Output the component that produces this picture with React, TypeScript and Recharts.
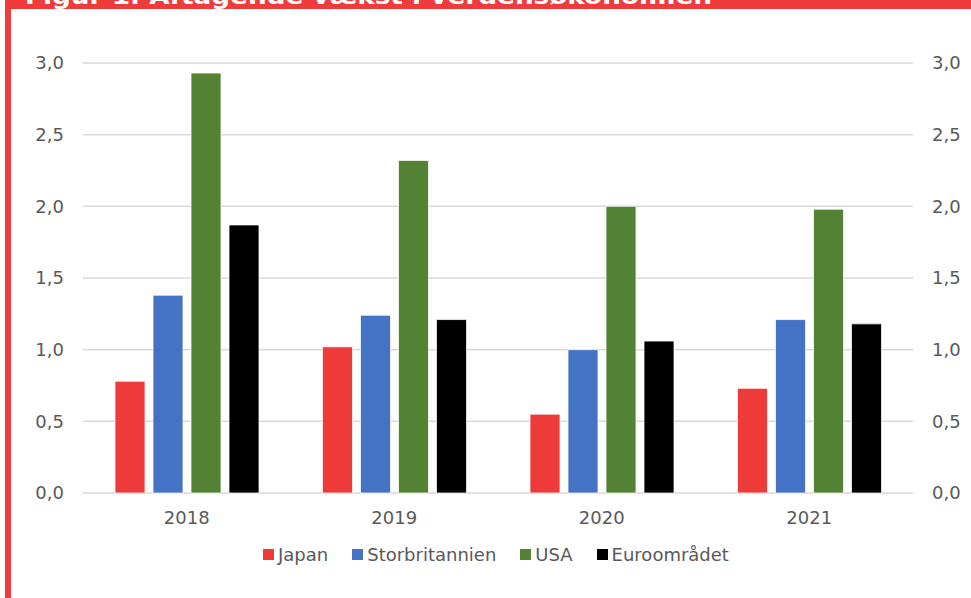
import { Bar, ComposedChart, CartesianGrid, Line, XAxis, YAxis } from "recharts";

const years = ["2018", "2019", "2020", "2021"];
const japan = [0.78, 1.02, 0.55, 0.73];
const storbritannien = [1.38, 1.24, 1.0, 1.21];
const usa = [2.93, 2.32, 2.0, 1.98];
const euroomraadet = [1.87, 1.21, 1.06, 1.18];
const yTicks = [0, 0.5, 1, 1.5, 2, 2.5, 3];

const series = [
  { key: "japan", name: "Japan", color: "#ee3a39" },
  { key: "storbritannien", name: "Storbritannien", color: "#4472c4" },
  { key: "usa", name: "USA", color: "#548235" },
  { key: "euro", name: "Euroområdet", color: "#000000" },
];

const data = years.map((year, i) => ({
  year,
  japan: japan[i],
  storbritannien: storbritannien[i],
  usa: usa[i],
  euro: euroomraadet[i],
}));

const fmt = (v: number) => v.toFixed(1).replace(".", ",");
const tickStyle = { fill: "#595959", fontSize: 18, fontFamily: "DejaVu Sans" };

export default function App() {
  return (
    <div
      style={{
        position: "fixed",
        left: 0,
        top: 0,
        width: 971,
        height: 598,
        background: "#fff",
        overflow: "hidden",
      }}
    >
      <div style={{ position: "absolute", left: 5, top: 0, width: 966, height: 9, background: "#ef3b3b" }} />
      <div style={{ position: "absolute", left: 5, top: 0, width: 6, height: 598, background: "#ef3b3b" }} />
      <svg width={971} height={9} style={{ position: "absolute", left: 0, top: 0 }}>
        <text
          x={25}
          y={4}
          fill="#fff"
          fontSize={23}
          fontWeight="bold"
          fontFamily="DejaVu Sans"
          textLength={687}
          lengthAdjust="spacingAndGlyphs"
        >
          Figur 1. Aftagende vækst i verdensøkonomien
        </text>
      </svg>

      <div style={{ position: "absolute", left: 0, top: 0 }}>
        <ComposedChart
          width={971}
          height={598}
          data={data}
          margin={{ top: 63, right: 18, left: 23, bottom: 75 }}
          barGap={8}
          barCategoryGap="15%"
        >
          <CartesianGrid vertical={false} stroke="#d9d9d9" strokeWidth={1.5} yAxisId="left" />
          <XAxis
            dataKey="year"
            height={30}
            axisLine={false}
            tickLine={false}
            tickMargin={12}
            tick={tickStyle}
          />
          <YAxis
            yAxisId="left"
            orientation="left"
            width={60}
            domain={[0, 3]}
            ticks={yTicks}
            tickFormatter={fmt}
            axisLine={false}
            tickLine={false}
            tickMargin={13}
            tick={tickStyle}
          />
          <YAxis
            yAxisId="right"
            orientation="right"
            width={40}
            domain={[0, 3]}
            ticks={yTicks}
            tickFormatter={fmt}
            axisLine={false}
            tickLine={false}
            tickMargin={13}
            tick={tickStyle}
          />
          {series.map((s) => (
            <Bar
              key={s.key}
              yAxisId="left"
              dataKey={s.key}
              name={s.name}
              fill={s.color}
              barSize={30}
              stroke="#ffffff"
              strokeWidth={0.75}
              isAnimationActive={false}
            />
          ))}
          {/* invisible series so the right axis is drawn */}
          <Line
            yAxisId="right"
            dataKey="usa"
            stroke="none"
            dot={false}
            activeDot={false}
            legendType="none"
            isAnimationActive={false}
          />
        </ComposedChart>
      </div>

      <div
        style={{
          position: "absolute",
          left: 263,
          top: 544,
          display: "flex",
          alignItems: "center",
          fontFamily: "DejaVu Sans",
          fontSize: 18,
          color: "#595959",
          whiteSpace: "nowrap",
        }}
      >
        {series.map((s) => (
          <div key={s.key} style={{ display: "flex", alignItems: "center", marginRight: 24 }}>
            <span style={{ display: "inline-block", width: 11, height: 11, background: s.color, marginRight: 4 }} />
            <span>{s.name}</span>
          </div>
        ))}
      </div>
    </div>
  );
}
